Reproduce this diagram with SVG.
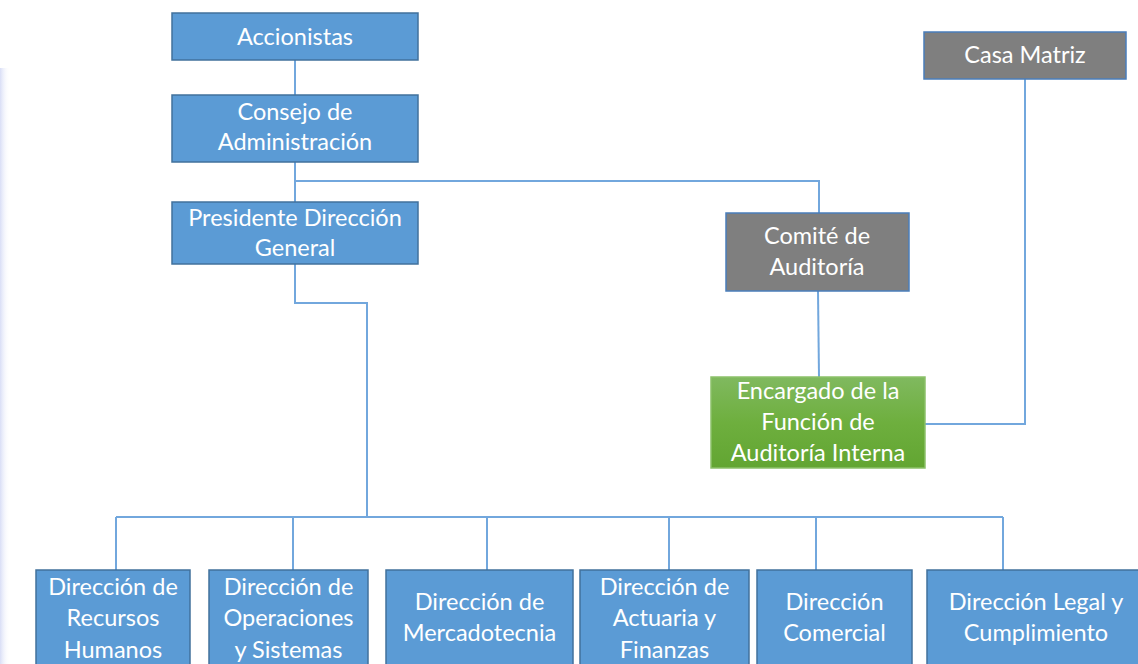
<svg xmlns="http://www.w3.org/2000/svg" width="1138" height="664" viewBox="0 0 1138 664">
<defs>
<linearGradient id="green" x1="0" y1="0" x2="0" y2="1">
<stop offset="0" stop-color="#80b95f"/>
<stop offset="0.5" stop-color="#6eaf3e"/>
<stop offset="1" stop-color="#62a532"/>
</linearGradient>
<linearGradient id="edge" x1="0" y1="0" x2="1" y2="0">
<stop offset="0" stop-color="#d9def6"/>
<stop offset="1" stop-color="#ffffff" stop-opacity="0"/>
</linearGradient>
<style>
.blue{fill:#5b9bd5;stroke:#41719c;stroke-width:1.5}
.gray{fill:#7f7f7f;stroke:#4a7ebb;stroke-width:1.5}
.green{fill:url(#green);stroke:#8cc16a;stroke-width:1.5}
text{font-family:Lato,"Open Sans","Liberation Sans",sans-serif;font-size:23.5px;fill:#ffffff;text-anchor:middle}
.conn{fill:none;stroke:#72a7dd;stroke-width:2}
</style>
</defs>
<rect x="0" y="0" width="1138" height="664" fill="#ffffff"/>
<rect x="0" y="68" width="10" height="596" fill="url(#edge)"/>
<g id="connectors">
<path class="conn" d="M295 60V95"/>
<path class="conn" d="M295 162V202"/>
<path class="conn" d="M295 181H819V213"/>
<path class="conn" d="M295 264V303H367V517"/>
<path class="conn" d="M116 517H1003"/>
<path class="conn" d="M116 517V570M293 517V570M487 517V570M669 517V570M816 517V570M1003 517V570"/>
<path class="conn" d="M818 291L819 377"/>
<path class="conn" d="M1025 79V424H925"/>
</g>
<g id="accionistas"><rect class="blue" x="172" y="13" width="246" height="47"/><text x="295" y="45">Accionistas</text></g>
<g id="consejo"><rect class="blue" x="172" y="95" width="246" height="67"/><text x="295" y="120">Consejo de</text><text x="295" y="150">Administración</text></g>
<g id="presidente"><rect class="blue" x="172" y="202" width="246" height="62"/><text x="295" y="226">Presidente Dirección</text><text x="295" y="256">General</text></g>
<g id="casa-matriz"><rect class="gray" x="924" y="32" width="202" height="47"/><text x="1025" y="63">Casa Matriz</text></g>
<g id="comite"><rect class="gray" x="726" y="213" width="183" height="78"/><text x="817" y="244">Comité de</text><text x="817" y="275">Auditoría</text></g>
<g id="encargado"><rect class="green" x="711" y="377" width="214" height="91"/><text x="818" y="399">Encargado de la</text><text x="818" y="430">Función de</text><text x="818" y="461">Auditoría Interna</text></g>
<g id="rrhh"><rect class="blue" x="36" y="570" width="154" height="100"/><text x="113" y="595">Dirección de</text><text x="113" y="626">Recursos</text><text x="113" y="658">Humanos</text></g>
<g id="operaciones"><rect class="blue" x="209" y="570" width="159" height="100"/><text x="288.5" y="595">Dirección de</text><text x="288.5" y="626">Operaciones</text><text x="288.5" y="658">y Sistemas</text></g>
<g id="mercadotecnia"><rect class="blue" x="386" y="570" width="187" height="100"/><text x="479.5" y="610">Dirección de</text><text x="479.5" y="641">Mercadotecnia</text></g>
<g id="actuaria"><rect class="blue" x="580" y="570" width="169" height="100"/><text x="664.5" y="595">Dirección de</text><text x="664.5" y="626">Actuaria y</text><text x="664.5" y="658">Finanzas</text></g>
<g id="comercial"><rect class="blue" x="757" y="570" width="155" height="100"/><text x="834.5" y="610">Dirección</text><text x="834.5" y="641">Comercial</text></g>
<g id="legal"><rect class="blue" x="927" y="570" width="218" height="100"/><text x="1036" y="610">Dirección Legal y</text><text x="1036" y="641">Cumplimiento</text></g>
</svg>
